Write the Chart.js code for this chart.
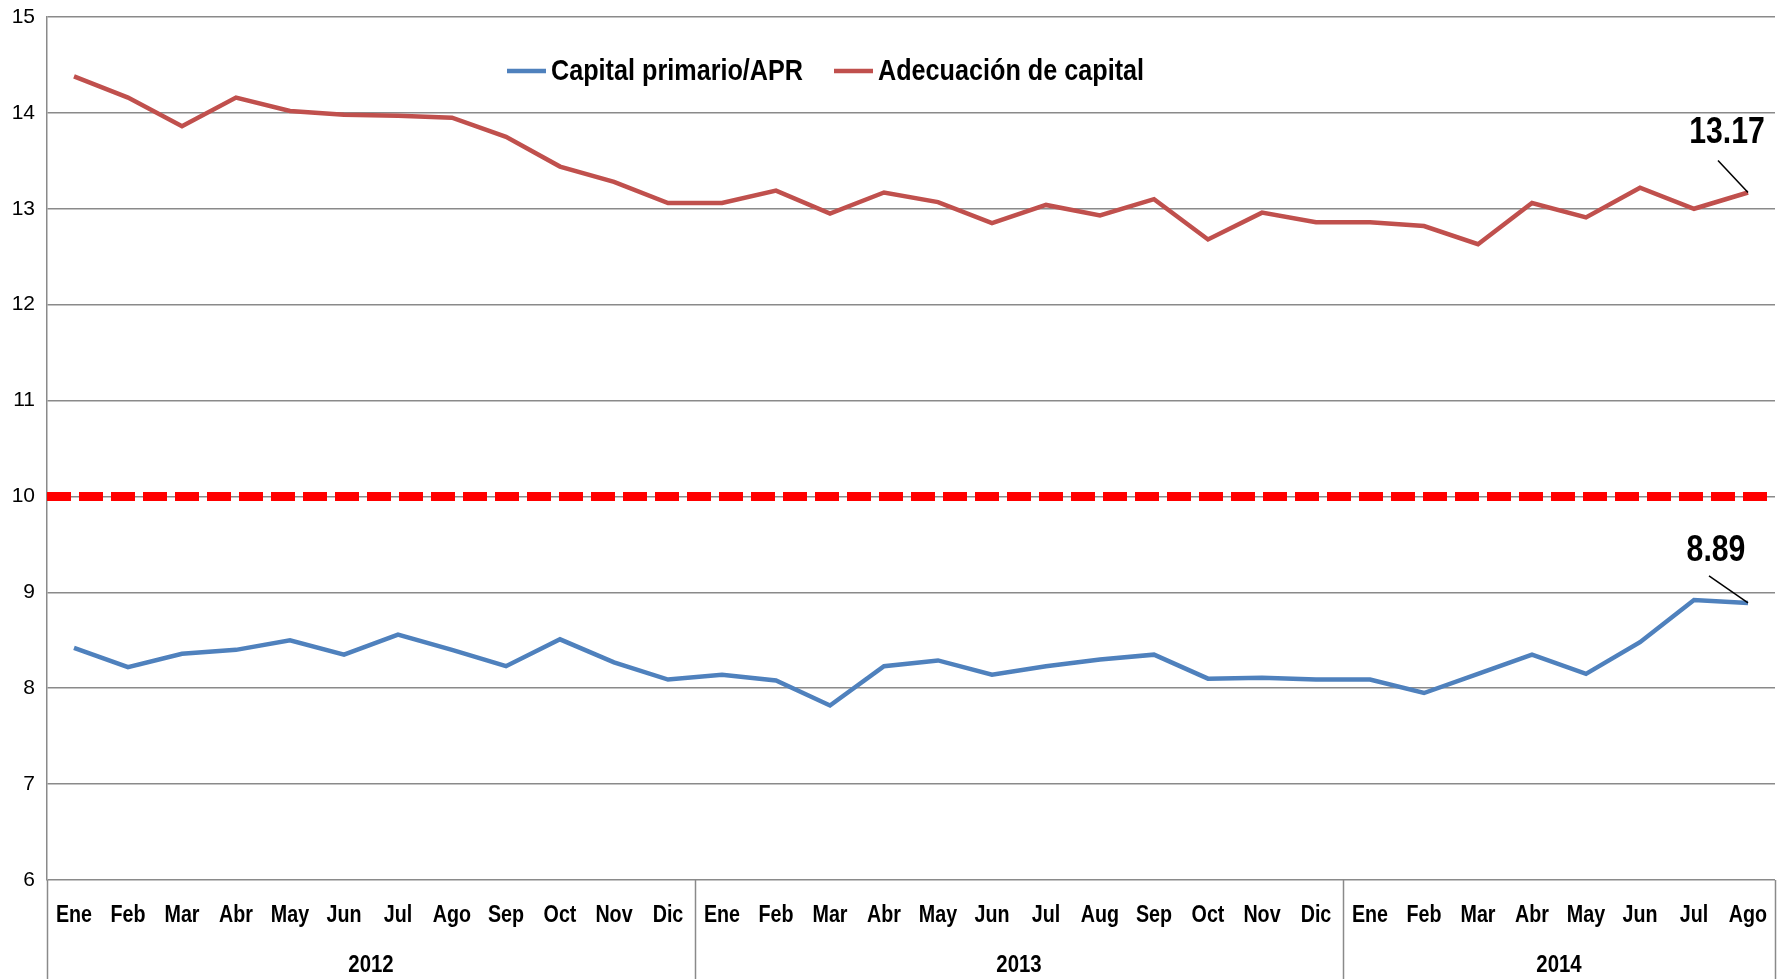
<!DOCTYPE html>
<html>
<head>
<meta charset="utf-8">
<script src="https://cdn.jsdelivr.net/npm/chart.js@4.4.1/dist/chart.umd.min.js"></script>
<style>
  html, body { margin: 0; padding: 0; background: #fff; }
  #wrap { width: 1777px; height: 979px; }
</style>
</head>
<body>
<div id="wrap"><canvas id="chart-capital" width="1777" height="979"></canvas></div>
<script>
const monthLabels = [
  'Ene', 'Feb', 'Mar', 'Abr', 'May', 'Jun', 'Jul', 'Ago', 'Sep', 'Oct', 'Nov', 'Dic',
  'Ene', 'Feb', 'Mar', 'Abr', 'May', 'Jun', 'Jul', 'Aug', 'Sep', 'Oct', 'Nov', 'Dic',
  'Ene', 'Feb', 'Mar', 'Abr', 'May', 'Jun', 'Jul', 'Ago',
];
const yearLabels = ['2012', '2013', '2014'];
const yearSpans = [12, 12, 8];

const capitalPrimario = [
  8.42, 8.22, 8.36, 8.40, 8.50, 8.35, 8.56, 8.40, 8.23, 8.51, 8.27, 8.09,
  8.14, 8.08, 7.82, 8.23, 8.29, 8.14, 8.23, 8.30, 8.35, 8.10, 8.11, 8.09,
  8.09, 7.95, 8.15, 8.35, 8.15, 8.48, 8.92, 8.89,
];
const adecuacionCapital = [
  14.38, 14.16, 13.86, 14.16, 14.02, 13.98, 13.97, 13.95, 13.75, 13.44, 13.28, 13.06,
  13.06, 13.19, 12.95, 13.17, 13.07, 12.85, 13.04, 12.93, 13.10, 12.68, 12.96, 12.86,
  12.86, 12.82, 12.63, 13.06, 12.91, 13.22, 13.00, 13.17,
];
const seriesNames = ['Capital primario/APR', 'Adecuación de capital'];
const minimumLevel = 10;
const yMin = 6;
const yMax = 15;

const FONT = '"Liberation Sans", Arial, sans-serif';
const BLUE = '#4F81BD';
const RED = '#C0504D';
const GRID = '#8a8a8a';

// no narrow font installed: squeeze text horizontally instead
const fillNarrow = (ctx, text, x, y, squeeze) => {
  ctx.save();
  ctx.translate(x, y);
  ctx.scale(squeeze, 1);
  ctx.fillText(text, 0, 0);
  ctx.restore();
};

// boundary between category k-1 and k, in pixels
const categoryEdge = (chart, k) => {
  const x = chart.scales.x;
  const n = monthLabels.length;
  if (k <= 0) return chart.chartArea.left;
  if (k >= n) return chart.chartArea.right;
  return (x.getPixelForValue(k - 1) + x.getPixelForValue(k)) / 2;
};

const extras = {
  id: 'extras',
  beforeDatasetsDraw(chart) {
    const { ctx, chartArea, scales } = chart;
    const yy = scales.y.getPixelForValue(minimumLevel);
    ctx.save();
    ctx.strokeStyle = '#FF0000';
    ctx.lineWidth = 9;
    ctx.setLineDash([24, 8]);
    ctx.beginPath();
    ctx.moveTo(chartArea.left, yy);
    ctx.lineTo(chartArea.right, yy);
    ctx.stroke();
    ctx.restore();
  },
  afterDraw(chart) {
    const { ctx, chartArea, scales } = chart;
    const bottom = chart.height;
    ctx.save();

    // month + year labels
    ctx.fillStyle = '#000';
    ctx.textAlign = 'center';
    ctx.textBaseline = 'middle';
    ctx.font = `bold 24px ${FONT}`;
    monthLabels.forEach((m, i) => {
      fillNarrow(ctx, m, scales.x.getPixelForValue(i), 915, 0.82);
    });

    let start = 0;
    const edges = [0];
    yearSpans.forEach((span, g) => {
      const a = categoryEdge(chart, start);
      const b = categoryEdge(chart, start + span);
      fillNarrow(ctx, yearLabels[g], (a + b) / 2, 965, 0.85);
      start += span;
      edges.push(start);
    });

    ctx.strokeStyle = GRID;
    ctx.lineWidth = 1.5;
    edges.forEach((k) => {
      const px = Math.round(categoryEdge(chart, k)) + 0.5;
      ctx.beginPath();
      ctx.moveTo(px, chartArea.bottom);
      ctx.lineTo(px, bottom);
      ctx.stroke();
    });

    // legend
    ctx.textAlign = 'left';
    ctx.font = `bold 30px ${FONT}`;
    const legendItems = [
      { name: seriesNames[0], color: BLUE, x: 507 },
      { name: seriesNames[1], color: RED, x: 834 },
    ];
    legendItems.forEach((item) => {
      ctx.strokeStyle = item.color;
      ctx.lineWidth = 4.5;
      ctx.beginPath();
      ctx.moveTo(item.x, 71);
      ctx.lineTo(item.x + 39, 71);
      ctx.stroke();
      ctx.fillStyle = '#000';
      fillNarrow(ctx, item.name, item.x + 44, 72, 0.84);
    });

    // last-value callouts
    ctx.font = `bold 36px ${FONT}`;
    ctx.textAlign = 'center';
    const callouts = [
      { ds: 1, dx: -21, dy: -59, lx: -30, ly: -32 },
      { ds: 0, dx: -32, dy: -52, lx: -39, ly: -27 },
    ];
    callouts.forEach((c) => {
      const data = chart.data.datasets[c.ds].data;
      const last = data.length - 1;
      const pt = chart.getDatasetMeta(c.ds).data[last];
      ctx.fillStyle = '#000';
      fillNarrow(ctx, data[last].toFixed(2), pt.x + c.dx, pt.y + c.dy, 0.84);
      ctx.strokeStyle = '#000';
      ctx.lineWidth = 1.5;
      ctx.beginPath();
      ctx.moveTo(pt.x + c.lx, pt.y + c.ly);
      ctx.lineTo(pt.x, pt.y);
      ctx.stroke();
    });

    ctx.restore();
  },
};

const ctx = document.getElementById('chart-capital').getContext('2d');
new Chart(ctx, {
  type: 'line',
  data: {
    labels: monthLabels,
    datasets: [
      {
        label: seriesNames[0],
        data: capitalPrimario,
        borderColor: BLUE,
        borderWidth: 4.5,
        pointRadius: 0,
        tension: 0,
        fill: false,
      },
      {
        label: seriesNames[1],
        data: adecuacionCapital,
        borderColor: RED,
        borderWidth: 4.5,
        pointRadius: 0,
        tension: 0,
        fill: false,
      },
    ],
  },
  options: {
    responsive: false,
    animation: false,
    devicePixelRatio: 1,
    layout: { padding: { top: 17, right: 2, bottom: 99, left: 0 } },
    plugins: {
      legend: { display: false },
      tooltip: { enabled: false },
    },
    scales: {
      x: {
        offset: true,
        grid: { display: false, drawTicks: false },
        border: { display: false },
        ticks: { display: false },
        afterFit: (scale) => { scale.height = 0; },
      },
      y: {
        min: yMin,
        max: yMax,
        grid: { color: GRID, lineWidth: 1.5, drawTicks: false },
        border: { display: true, color: GRID, width: 1.5 },
        ticks: {
          stepSize: 1,
          padding: 12,
          color: '#000',
          font: { family: FONT, size: 21 },
        },
        afterFit: (scale) => {
          scale.width = 47;
          scale.paddingTop = 0;
          scale.paddingBottom = 0;
        },
      },
    },
  },
  plugins: [extras],
});
</script>
</body>
</html>
